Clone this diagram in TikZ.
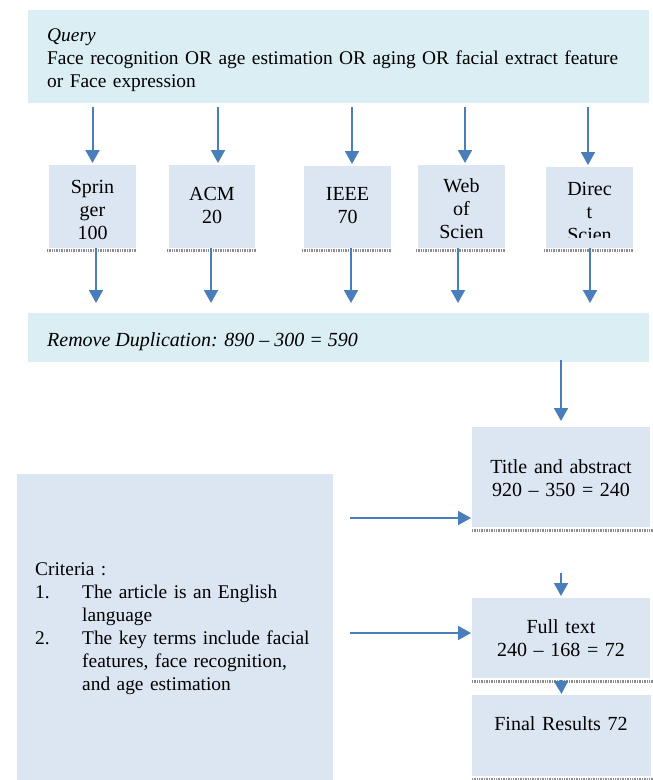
\documentclass[tikz,border=0pt]{standalone}
\usepackage{fontspec}
\setmainfont{Liberation Serif}
\usetikzlibrary{arrows.meta,calc}
\definecolor{qblue}{HTML}{DAEEF3}
\definecolor{bblue}{HTML}{DCE6F2}
\definecolor{ablue}{HTML}{4A7EBB}
\definecolor{shad}{HTML}{8C8C8C}
\begin{document}
\begin{tikzpicture}[x=1pt,y=-1pt,
  panel/.style={fill=#1,draw=none,inner sep=0pt,outer sep=0pt,anchor=north west},
  txt/.style={inner sep=0pt,font=\fontsize{20}{23}\selectfont},
  smalltxt/.style={inner sep=0pt,font=\fontsize{19.4}{23}\selectfont},
  arr/.style={draw=ablue,line width=2pt,-{Triangle[width=14pt,length=13pt]}},
  shadowline/.style={draw=shad,line width=3pt,dash pattern=on 1pt off 0.7pt}]
\useasboundingbox (0,0) rectangle (653,780);
% boxes
\node[panel=qblue,minimum width=621pt,minimum height=93pt] (q) at (28,10) {};
\node[panel=bblue,minimum width=87pt,minimum height=83pt] (sp) at (49,165) {};
\node[panel=bblue,minimum width=86pt,minimum height=83pt] (ac) at (169,165) {};
\node[panel=bblue,minimum width=87pt,minimum height=82pt] (ie) at (304,166) {};
\node[panel=bblue,minimum width=87pt,minimum height=83pt] (ws) at (418,165) {};
\node[panel=bblue,minimum width=87pt,minimum height=81pt] (ds) at (546,167) {};
\node[panel=qblue,minimum width=621pt,minimum height=49pt] (rd) at (28,313) {};
\node[panel=bblue,minimum width=178pt,minimum height=100pt] (ta) at (472,427) {};
\node[panel=bblue,minimum width=178pt,minimum height=80pt] (ft) at (472,598) {};
\node[panel=bblue,minimum width=179pt,minimum height=81pt] (fr) at (472,695) {};
\node[panel=bblue,minimum width=316pt,minimum height=306pt] (cr) at (17,474) {};
% shadow lines
\foreach \n in {sp,ac,ie,ws,ds}
  \draw[shadowline] ([yshift=-2pt,xshift=-2pt]\n.south west) -- ([yshift=-2pt,xshift=1pt]\n.south east);
\foreach \n in {ta,ft,fr}
  \draw[shadowline] ([yshift=-3pt]\n.south west) -- ([yshift=-3pt,xshift=3pt]\n.south east);
% texts
\node[smalltxt,anchor=base west,text width=610pt,align=left] (qt) at (47,41)
  {\textit{Query}\\Face recognition OR age estimation OR aging OR facial extract feature\\or Face expression};
\node[txt,anchor=base,text width=84pt,align=center] (spt) at (92.5,193) {Sprin\\ger\\100};
\node[txt,anchor=base,text width=84pt,align=center] (act) at (212,200) {ACM\\20};
\node[txt,anchor=base,text width=84pt,align=center] (iet) at (347.5,200) {IEEE\\70};
\node[txt,anchor=base,text width=84pt,align=center] (wst) at (461.5,192) {Web\\of\\Scien};
\begin{scope}
  \clip (ds.north west) rectangle ([yshift=11pt]ds.south east);
  \node[txt,anchor=base,text width=84pt,align=center] (dst) at (589.5,195) {Direc\\t\\Scien};
\end{scope}
\node[txt,anchor=base west] (rdt) at (47,346) {\textit{Remove Duplication: 890 – 300 = 590}};
\node[txt,anchor=base,text width=176pt,align=center] (tat) at (561,473) {Title and abstract\\920 – 350 = 240};
\node[txt,anchor=base,text width=176pt,align=center] (ftt) at (561,633) {Full text\\240 – 168 = 72};
\node[txt,anchor=base,text width=176pt,align=center] (frt) at (561,730) {Final Results 72};
\node[smalltxt,anchor=base west,text width=296pt,align=left] (crt) at (35,575)
  {Criteria :\\
   \makebox[47pt][l]{1.}The article is an English\\
   \hspace*{47pt}language\\
   \makebox[47pt][l]{2.}The key terms include facial\\
   \hspace*{47pt}features, face recognition,\\
   \hspace*{47pt}and age estimation};
% arrows
\foreach \n/\a/\b in {sp/0/3.5, ac/6/-1, ie/4.5/3.5, ws/3.5/-3.5, ds/-1.5/0.5} {
  \draw[arr,shorten <=4pt,shorten >=2pt] ([xshift=\a pt]q.south -| \n.north) -- ([xshift=\a pt]\n.north);
  \draw[arr,shorten >=10pt] ([xshift=\b pt]\n.south) -- ([xshift=\b pt]\n.south |- rd.north);
}
\draw[arr,shorten >=6pt] ([yshift=2pt]rd.south -| ta.north) -- (ta.north);
\coordinate (h1) at (0,518);
\coordinate (h2) at (0,633);
\draw[arr,shorten <=17pt,shorten >=1pt] (cr.east |- h1) -- (ta.west |- h1);
\draw[arr,shorten <=17pt,shorten >=1pt] (cr.east |- h2) -- (ft.west |- h2);
\draw[arr,shorten <=46pt,shorten >=2pt] (ta.south) -- (ft.north);
\draw[arr,shorten <=2pt,shorten >=1pt] (ft.south) -- (fr.north);
\end{tikzpicture}
\end{document}
